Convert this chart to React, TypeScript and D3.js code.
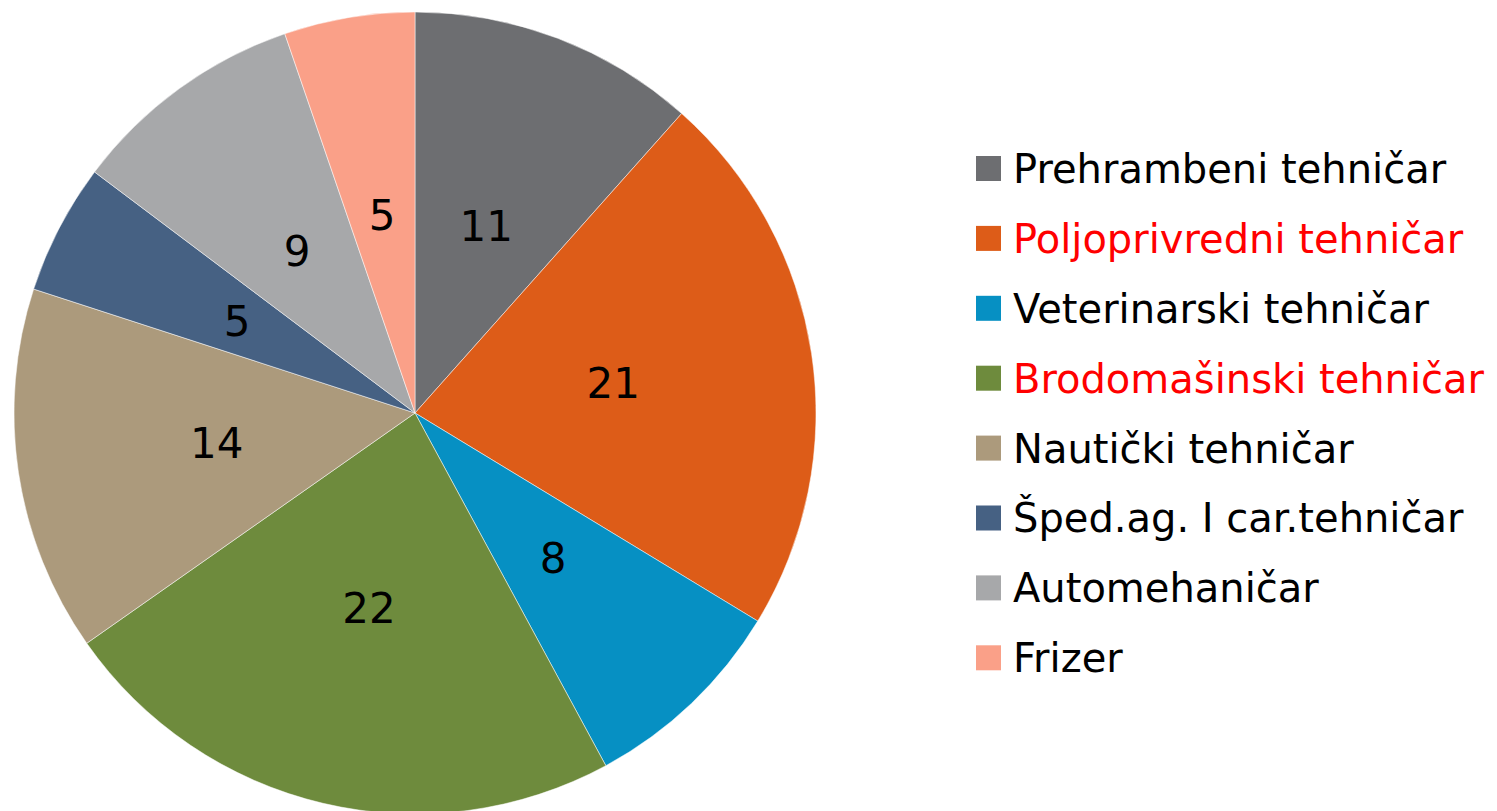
import React from "react";
import * as d3 from "d3";

const categories = [
  "Prehrambeni tehničar",
  "Poljoprivredni tehničar",
  "Veterinarski tehničar",
  "Brodomašinski tehničar",
  "Nautički tehničar",
  "Šped.ag. I car.tehničar",
  "Automehaničar",
  "Frizer",
];
const values = [11, 21, 8, 22, 14, 5, 9, 5];
const colors = ["#6D6E71", "#DD5C18", "#0690C3", "#6E8B3D", "#AC9A7C", "#466183", "#A7A8AA", "#FAA088"];
const legendTextColors = ["#000", "#FF0000", "#000", "#FF0000", "#000", "#000", "#000", "#000"];

export default function App() {
  const W = 1497, H = 811;
  const cx = 415, cy = 413, r = 401;
  const pie = d3.pie<number>().sort(null).value((d) => d)(values);
  const arc = d3.arc<d3.PieArcDatum<number>>().innerRadius(0).outerRadius(r);
  const labelArc = d3.arc<d3.PieArcDatum<number>>().innerRadius(r * 0.5).outerRadius(r * 0.5);
  const font = "'DejaVu Sans', sans-serif";
  return (
    <svg width={W} height={H} style={{ position: "absolute", left: 0, top: 0 }}>
      <rect width={W} height={H} fill="#fff" />
      <g transform={`translate(${cx},${cy})`}>
        {pie.map((p, i) => (
          <path key={i} d={arc(p) || ""} fill={colors[i]} stroke="#fff" strokeWidth={0.5} />
        ))}
        {pie.map((p, i) => {
          const [x, y] = labelArc.centroid(p);
          return (
            <text key={i} x={x} y={y} dy="0.36em" textAnchor="middle" fontFamily={font} fontSize={42} fill="#000">
              {values[i]}
            </text>
          );
        })}
      </g>
      <g>
        {categories.map((c, i) => (
          <g key={i} transform={`translate(976, ${168.5 + i * 69.9})`}>
            <rect x={0} y={-12.5} width={25} height={25} fill={colors[i]} />
            <text x={37} y={0} dy="0.36em" fontFamily={font} fontSize={40} fill={legendTextColors[i]}>
              {c}
            </text>
          </g>
        ))}
      </g>
    </svg>
  );
}
